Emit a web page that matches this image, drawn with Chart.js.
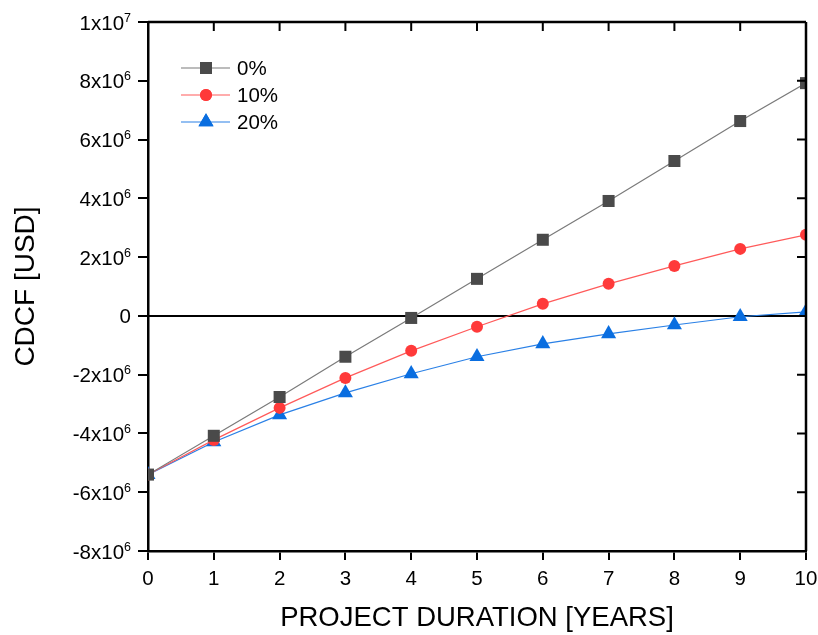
<!DOCTYPE html>
<html>
<head>
<meta charset="utf-8">
<script src="https://cdn.jsdelivr.net/npm/chart.js@4"></script>
<style>
html,body{margin:0;padding:0;background:#fff;}
canvas{display:block;}
</style>
</head>
<body>
<canvas id="c" width="818" height="635"></canvas>
<script>
const years = [0,1,2,3,4,5,6,7,8,9,10];
const seriesNames = ['0%','10%','20%'];
const cdcf0  = [-5.40e6,-4.08e6,-2.76e6,-1.39e6,-0.07e6,1.26e6,2.59e6,3.91e6,5.27e6,6.63e6,7.92e6];
const cdcf10 = [-5.40e6,-4.22e6,-3.13e6,-2.11e6,-1.19e6,-0.37e6,0.41e6,1.09e6,1.70e6,2.28e6,2.76e6];
const cdcf20 = [-5.40e6,-4.29e6,-3.37e6,-2.62e6,-1.97e6,-1.39e6,-0.95e6,-0.61e6,-0.31e6,-0.03e6,0.14e6];
const yTickValues = [-8e6,-6e6,-4e6,-2e6,0,2e6,4e6,6e6,8e6,1e7];
const yTickMantissa = ['-8x10','-6x10','-4x10','-2x10','0','2x10','4x10','6x10','8x10','1x10'];
const yTickExponent = ['6','6','6','6','','6','6','6','6','7'];

const FONT = "'Liberation Sans', Arial, sans-serif";

function pts(vals){ return years.map((x,i)=>({x:x,y:vals[i]})); }

const styles = [
  {line:'#7a7a7a', fill:'#4a4a4a', shape:'rect', r:8.5},
  {line:'#ff5a5a', fill:'#ff3a3a', shape:'circle', r:6},
  {line:'#2a80e6', fill:'#0a6ee0', shape:'triangle', r:8.7}
];
const allVals = [cdcf0, cdcf10, cdcf20];

const frame = {
  id:'frame',
  beforeDatasetsDraw(chart){
    const {ctx, chartArea:a, scales:{y}} = chart;
    const y0 = y.getPixelForValue(0);
    ctx.save();
    ctx.strokeStyle='#000'; ctx.lineWidth=2;
    ctx.beginPath(); ctx.moveTo(a.left,y0); ctx.lineTo(a.right,y0); ctx.stroke();
    ctx.restore();
  },
  afterDraw(chart){
    const {ctx, chartArea:a, scales:{x,y}} = chart;
    ctx.save();
    ctx.strokeStyle='#000'; ctx.lineWidth=2.5;
    ctx.beginPath();
    ctx.moveTo(a.left,a.top); ctx.lineTo(a.right,a.top);
    ctx.moveTo(a.right,a.top); ctx.lineTo(a.right,a.bottom);
    ctx.stroke();
    ctx.lineWidth=2;
    ctx.beginPath();
    years.forEach(v=>{ const px=x.getPixelForValue(v); ctx.moveTo(px,a.top); ctx.lineTo(px,a.top+9); });
    yTickValues.forEach(v=>{ const py=y.getPixelForValue(v); ctx.moveTo(a.right,py); ctx.lineTo(a.right-9,py); });
    ctx.stroke();
    // y tick labels with superscript exponents
    ctx.fillStyle='#000';
    ctx.textBaseline='alphabetic';
    yTickValues.forEach((v,i)=>{
      const py=y.getPixelForValue(v);
      const right=131;
      ctx.font="12.5px "+FONT;
      const ew = yTickExponent[i] ? ctx.measureText(yTickExponent[i]).width : 0;
      ctx.textAlign='right';
      if (yTickExponent[i]) ctx.fillText(yTickExponent[i], right, py-0.5);
      ctx.font="20.5px "+FONT;
      ctx.fillText(yTickMantissa[i], right-ew, py+7.5);
    });
    // legend
    const rows=[68,95,122];
    ctx.font = "20.5px "+FONT;
    ctx.textAlign='left';
    ctx.textBaseline='middle';
    rows.forEach((ry,i)=>{
      const s=styles[i];
      ctx.strokeStyle=s.line; ctx.lineWidth=1.2;
      ctx.beginPath(); ctx.moveTo(181,ry); ctx.lineTo(230,ry); ctx.stroke();
      ctx.fillStyle=s.fill;
      Chart.helpers.drawPoint(ctx,{pointStyle:s.shape, radius:s.r, borderWidth:0, rotation:0}, 206, ry);
      ctx.fill();
      ctx.fillStyle='#000';
      ctx.fillText(seriesNames[i], 237, ry+1);
    });
    ctx.restore();
  }
};

new Chart(document.getElementById('c'), {
  type:'line',
  data:{
    datasets: allVals.map((v,i)=>({
      label: seriesNames[i],
      data: pts(v),
      borderColor: styles[i].line,
      borderWidth: 1.2,
      backgroundColor: styles[i].fill,
      pointBackgroundColor: styles[i].fill,
      pointBorderColor: styles[i].fill,
      pointBorderWidth: 0,
      pointStyle: styles[i].shape,
      pointRadius: styles[i].r,
      pointHoverRadius: styles[i].r,
      tension:0
    }))
  },
  options:{
    responsive:false,
    devicePixelRatio:1,
    animation:false,
    layout:{padding:{left:0, top:22, right:12, bottom:0}},
    plugins:{legend:{display:false}, tooltip:{enabled:false}},
    scales:{
      x:{
        type:'linear', min:0, max:10,
        afterFit(s){ s.height = 635-551; s.paddingRight = 0; s.paddingLeft = 0; },
        ticks:{stepSize:1, color:'#000', font:{family:FONT,size:20.5}, padding:7},
        grid:{drawOnChartArea:false, drawTicks:true, tickLength:9, color:'#000', lineWidth:2},
        border:{color:'#000', width:2.5},
        title:{display:true, text:'PROJECT DURATION [YEARS]', color:'#000', font:{family:FONT,size:27.5}, padding:{top:4,bottom:0}}
      },
      y:{
        type:'linear', min:-8e6, max:1e7,
        afterFit(s){ s.width = 148; s.paddingTop = 0; s.paddingBottom = 0; },
        afterBuildTicks(s){ s.ticks = yTickValues.map(v=>({value:v})); },
        ticks:{display:false},
        grid:{drawOnChartArea:false, drawTicks:true, tickLength:10, color:'#000', lineWidth:2},
        border:{color:'#000', width:2.5},
        title:{display:true, text:'CDCF [USD]', color:'#000', font:{family:FONT,size:28}, padding:{top:9,bottom:0}}
      }
    }
  },
  plugins:[frame]
});
</script>
</body>
</html>
